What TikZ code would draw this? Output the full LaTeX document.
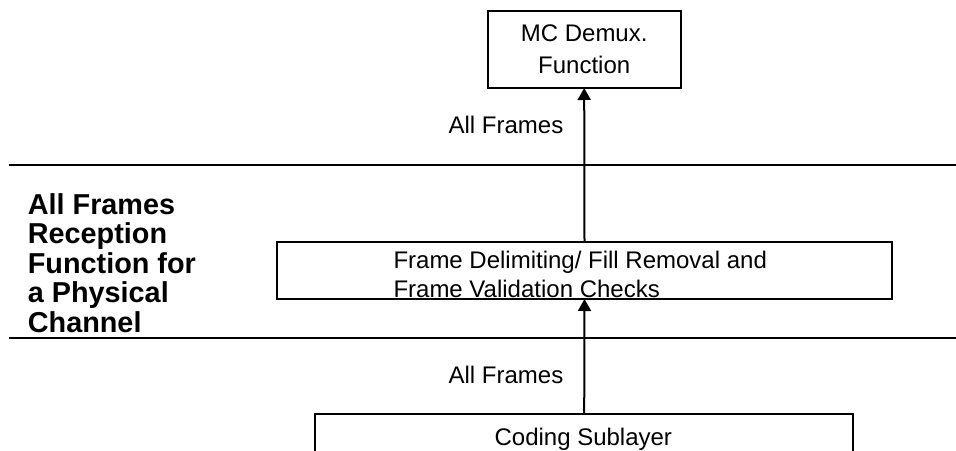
\documentclass[tikz,border=0pt]{standalone}
\usepackage{fontspec}
\setmainfont{Liberation Sans}
\usetikzlibrary{arrows.meta}
\tikzset{
  funcbox/.style={draw, line width=2pt, inner sep=0pt, outer sep=0pt},
  flowarrow/.style={-{Triangle[width=13pt,length=12pt]}, line width=2pt},
  lbl/.style={inner sep=0pt, font=\fontsize{24}{28.4}\selectfont},
  layerline/.style={line width=2pt},
}

\begin{document}
\begin{tikzpicture}[x=1pt, y=-1pt]

    \useasboundingbox (0,0) rectangle (956,450);
    \clip (0,0) rectangle (956,450);

    % layer boundaries
    \draw[layerline] (9,164.7) -- (956,164.7);
    \draw[layerline] (9,337.7) -- (956,337.7);

    \node[lbl, anchor=north west, align=left, font=\bfseries\fontsize{28.8}{29.6}\selectfont] (layername) at (27.7,193) {All Frames\\Reception\\Function for\\a Physical\\Channel};

    \node[funcbox, minimum width=193pt, minimum height=77pt, align=center, font=\fontsize{24}{31.7}\selectfont] (demux) at (584.2,49.5) {MC Demux.\\Function};

    \node[funcbox, minimum width=615pt, minimum height=57pt] (valid) at (584.5,270.5) {};
    \node[lbl, anchor=north west, align=left] (validtxt) at (393.3,251.1) {Frame Delimiting/ Fill Removal and\\Frame Validation Checks};

    \node[funcbox, anchor=north, minimum width=538pt, minimum height=80pt] (coding) at (584.2,414.3) {};
    \node[lbl, anchor=base] (codingtxt) at (583.3,445) {Coding Sublayer};

    \draw[flowarrow] (coding.north) -- (valid.south);
    \draw[flowarrow] (valid.north) -- (demux.south);

    \node[lbl, anchor=base east] (upperlbl) at (563.5,133) {All Frames};
    \node[lbl, anchor=base east] (lowerlbl) at (563.5,383.3) {All Frames};

\end{tikzpicture}
\end{document}
